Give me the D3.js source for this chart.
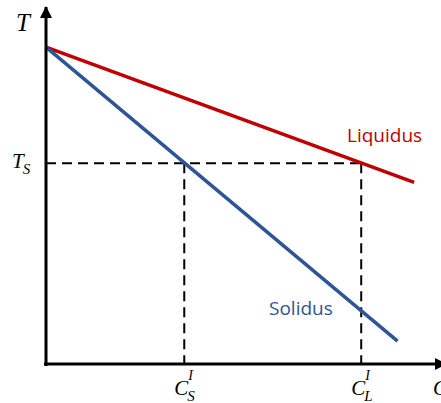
<!DOCTYPE html>
<html>
<head>
<meta charset="utf-8">
<script src="https://cdn.jsdelivr.net/npm/d3@7"></script>
<style>
  html, body { margin: 0; padding: 0; background: #fff; overflow: hidden; }
  svg { display: block; }
</style>
</head>
<body>
<svg width="441" height="403"></svg>
<script>
// phase diagram data (arbitrary units)
var liquidus = [[0, 8.9], [9.32, 5.1]];
var solidus = [[0, 8.9], [8.9, 0.64]];
var tS = 5.64;
var cS = 3.5;
var cL = 7.98;
var xLabels = [
  { value: cS, base: 'C', sub: 'S', sup: 'I' },
  { value: cL, base: 'C', sub: 'L', sup: 'I' }
];
var curveNames = ['Liquidus', 'Solidus'];

var svg = d3.select('svg');
var x = d3.scaleLinear().domain([0, 10]).range([46, 441]);
var y = d3.scaleLinear().domain([0, 10]).range([364, 8]);

var red = '#c00000';
var blue = '#2f5597';

// arrow heads
var defs = svg.append('defs');
defs.append('marker').attr('id', 'arr').attr('viewBox', '0 0 12 12')
  .attr('refX', 11).attr('refY', 6).attr('markerWidth', 12).attr('markerHeight', 12)
  .attr('markerUnits', 'userSpaceOnUse').attr('orient', 'auto')
  .append('path').attr('d', 'M0,0 L12,6 L0,12 Z').attr('fill', '#000');

// dashed guides
svg.append('line').attr('x1', x(0)).attr('x2', x(cL)).attr('y1', y(tS)).attr('y2', y(tS))
  .attr('stroke', '#000').attr('stroke-width', 2).attr('stroke-dasharray', '10,6');
[cS, cL].forEach(function (c) {
  svg.append('line').attr('x1', x(c)).attr('x2', x(c)).attr('y1', y(tS)).attr('y2', y(0))
    .attr('stroke', '#000').attr('stroke-width', 2).attr('stroke-dasharray', '10,6');
});

var line = d3.line().x(function (d) { return x(d[0]); }).y(function (d) { return y(d[1]); });
svg.append('path').datum(liquidus).attr('d', line).attr('stroke', red).attr('stroke-width', 3.5).attr('fill', 'none');
svg.append('path').datum(solidus).attr('d', line).attr('stroke', blue).attr('stroke-width', 3.5).attr('fill', 'none');

// axes
svg.append('line').attr('x1', x(0)).attr('x2', x(0)).attr('y1', y(0) + 2).attr('y2', 7)
  .attr('stroke', '#000').attr('stroke-width', 3).attr('marker-end', 'url(#arr)');
svg.append('line').attr('x1', x(0) - 2).attr('x2', 446).attr('y1', y(0)).attr('y2', y(0))
  .attr('stroke', '#000').attr('stroke-width', 3).attr('marker-end', 'url(#arr)');

var serif = '"Liberation Serif", "DejaVu Serif", serif';

// axis titles
svg.append('text').attr('x', 23).attr('y', 31).attr('text-anchor', 'middle')
  .attr('font-family', serif).attr('font-style', 'italic').attr('font-size', 25).text('T');
svg.append('text').attr('x', 433).attr('y', 395)
  .attr('font-family', serif).attr('font-style', 'italic').attr('font-size', 21).text('C');

// T_S label
var ts = svg.append('text').attr('x', 12).attr('y', y(tS) + 5)
  .attr('font-family', serif).attr('font-style', 'italic').attr('font-size', 21);
ts.append('tspan').text('T');
ts.append('tspan').attr('font-size', 15).attr('dx', -1).attr('dy', 6).text('S');

// composition labels
xLabels.forEach(function (d) {
  var g = svg.append('g').attr('font-family', serif).attr('font-style', 'italic');
  g.append('text').attr('x', x(d.value) - 10).attr('y', 395).attr('font-size', 21).text(d.base);
  g.append('text').attr('x', x(d.value) + 4).attr('y', 380).attr('font-size', 14).text(d.sup);
  g.append('text').attr('x', x(d.value) + 3).attr('y', 401).attr('font-size', 15).text(d.sub);
});

// curve names
svg.append('text').attr('x', 347).attr('y', 142).attr('font-family', '"Open Sans", sans-serif')
  .attr('font-size', 19).attr('fill', red).text(curveNames[0]);
svg.append('text').attr('x', 269).attr('y', 315).attr('font-family', '"Open Sans", sans-serif')
  .attr('font-size', 19).attr('fill', blue).text(curveNames[1]);
</script>
</body>
</html>
